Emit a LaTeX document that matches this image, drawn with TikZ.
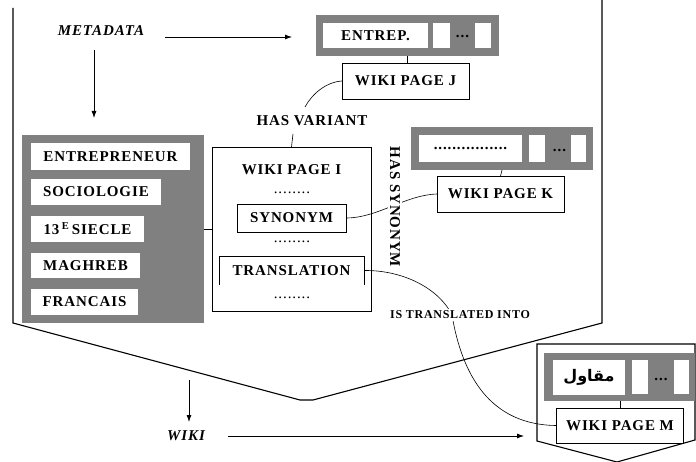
\documentclass[tikz,border=0pt]{standalone}
\usepackage{fontspec}
\setmainfont{Liberation Serif}[LetterSpace=6]
\newfontfamily\arabicfont[Script=Arabic]{DejaVu Sans}
\TeXXeTstate=1
\usetikzlibrary{arrows.meta}
\definecolor{boxgray}{RGB}{128,128,128}
\newcommand{\mybf}{\fontsize{15}{17}\selectfont\bfseries}
\newcommand{\mydots}{\fontsize{15}{17}\selectfont}
\begin{document}
\begin{tikzpicture}[x=1pt,y=-1pt,
  every node/.style={inner sep=0pt, outer sep=0pt},
  gbox/.style={fill=boxgray},
  cell/.style={fill=white, font=\mybf},
  wbox/.style={draw, line width=0.8pt, fill=white, font=\mybf},
  conn/.style={line width=0.6pt},
  arr/.style={line width=0.8pt, -{Latex[length=7pt,width=5pt]}},
  frame/.style={line width=1.1pt, line join=miter}]
\useasboundingbox (0,0) rectangle (696,462);

% frames
\draw[frame] (13,8) -- (13,323) -- (300,400) -- (313,400) -- (602,323) -- (602,0);
\draw[frame] (695,344) -- (537,344) -- (537,441) -- (617,462) -- (695,440) -- cycle;

% metadata and wiki labels
\node[font=\fontsize{15}{17}\selectfont\bfseries\itshape] (meta) at (101,31) {METADATA};
\coordinate (ma1) at (165,37);
\coordinate (ma2) at (292,37);
\draw[arr] (ma1) -- (ma2);
\coordinate (md1) at (94,50);
\coordinate (md2) at (94,118);
\draw[arr] (md1) -- (md2);

\node[font=\fontsize{15}{17}\selectfont\bfseries\itshape] (wiki) at (186,436) {WIKI};
\coordinate (wd1) at (189,380);
\coordinate (wd2) at (189,422);
\draw[arr] (wd1) -- (wd2);
\coordinate (wa1) at (228,436);
\coordinate (wa2) at (524,436);
\draw[arr] (wa1) -- (wa2);

% left gray list
\node[gbox, minimum width=182pt, minimum height=188pt] (lg) at (113,229) {};
\node[cell, minimum width=159pt, minimum height=27pt] (c1) at (110.5,156.5) {ENTREPRENEUR};
\node[cell, minimum width=130pt, minimum height=26pt] (c2) at (96,192) {SOCIOLOGIE};
\node[cell, minimum width=113pt, minimum height=26pt] (c3) at (87.5,229) {13\,\textsuperscript{E}\,SIECLE};
\node[cell, minimum width=109pt, minimum height=25pt] (c4) at (85.5,265.5) {MAGHREB};
\node[cell, minimum width=107pt, minimum height=26pt] (c5) at (84.5,302) {FRANCAIS};

% wiki page I
\node[wbox, minimum width=159pt, minimum height=164pt] (I) at (291.5,229) {};
\node[font=\mybf] (It) at (291.5,170) {WIKI PAGE I};
\node[font=\mydots] (Id1) at (292,193) {........};
\node[wbox, minimum width=109pt, minimum height=28pt] (syn) at (291.5,218) {SYNONYM};
\node[font=\mydots] (Id2) at (292,242) {........};
\node[font=\mybf, minimum width=145pt, minimum height=29pt] (tr) at (291.5,270.5) {TRANSLATION};
\draw[line width=0.8pt] (tr.south west) -- (tr.north west) -- (tr.north east) -- (tr.south east);
\node[font=\mydots] (Id3) at (292,298) {........};
\draw[conn] (lg.east) -- (I.west);

% ENTREP box and page J
\node[gbox, minimum width=183pt, minimum height=41pt] (Eg) at (407.5,35.5) {};
\node[cell, minimum width=105pt, minimum height=25pt] (Ec) at (375.5,35.5) {ENTREP.};
\node[cell, minimum width=17pt, minimum height=25pt] (Ew1) at (441.5,35.5) {};
\node[font=\mybf] (Ed) at (462.5,37) {...};
\node[cell, minimum width=16pt, minimum height=25pt] (Ew2) at (483,35.5) {};
\node[wbox, minimum width=127pt, minimum height=36pt] (J) at (405.5,81) {WIKI PAGE J};
\draw[conn] (Eg.south) -- (Eg.south |- J.north);

% has variant
\node[font=\mybf] (hv) at (312,121) {HAS VARIANT};
\coordinate (hvtop) at (305,107);
\coordinate (hvbot) at (293,134);
\draw[conn] (J.west) .. controls (326,82) and (312,94) .. (hvtop);
\draw[conn] (hvbot) -- (I.north);

% K box
\node[gbox, minimum width=182pt, minimum height=43pt] (Kg) at (502,148.5) {};
\node[cell, minimum width=103pt, minimum height=27pt] (Kc) at (470.5,148.5) {\mydots................};
\node[cell, minimum width=16pt, minimum height=27pt] (Kw1) at (537,148.5) {};
\node[font=\mybf] (Kd) at (559.5,150) {...};
\node[cell, minimum width=15pt, minimum height=27pt] (Kw2) at (578.5,148.5) {};
\node[wbox, minimum width=127pt, minimum height=36pt] (K) at (500.5,194) {WIKI PAGE K};
\draw[conn] (Kg.south) -- (K.north);

% has synonym
\draw[conn] (syn.east) .. controls (378,218) and (405,195) .. (K.west);
\node[rotate=-90, fill=white, font=\mybf, inner sep=2pt] (hs) at (395,207) {HAS SYNONYM};

% M box
\node[gbox, minimum width=151pt, minimum height=48pt] (Mg) at (619.5,377) {};
\node[cell, minimum width=72pt, minimum height=35pt] (Mc) at (589,377.5) {\arabicfont\bfseries\fontsize{16}{18}\selectfont\beginR مقاول\endR};
\node[cell, minimum width=16pt, minimum height=34pt] (Mw1) at (640,377) {};
\node[font=\mybf] (Md) at (661,379) {...};
\node[cell, minimum width=15pt, minimum height=34pt] (Mw2) at (681,377) {};
\node[wbox, minimum width=127pt, minimum height=35pt] (M) at (620,425.5) {WIKI PAGE M};
\draw[conn] (M.north |- Mg.south) -- (M.north);

% is translated into
\draw[conn] (tr.east) .. controls (405,270) and (440,290) .. (452,315) .. controls (462,375) and (490,425) .. (M.west);
\node[fill=white, inner sep=2pt, font=\fontsize{12}{14}\selectfont\bfseries] (ist) at (460,315) {IS TRANSLATED INTO};
\end{tikzpicture}
\end{document}
